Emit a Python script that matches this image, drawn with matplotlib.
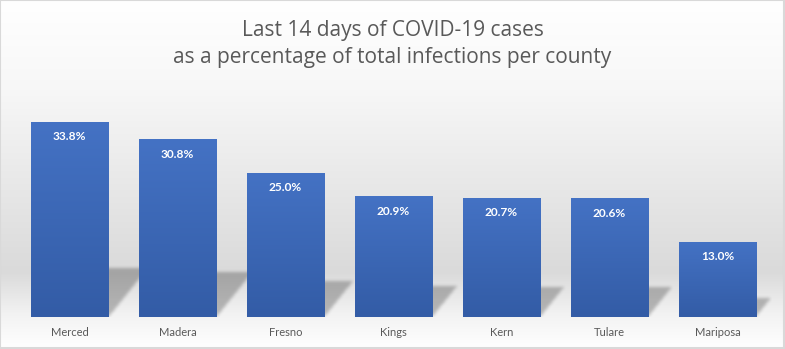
import numpy as np
import matplotlib
matplotlib.use("Agg")
import matplotlib.pyplot as plt
from matplotlib.colors import LinearSegmentedColormap
from matplotlib.path import Path as MPath
from matplotlib.patches import Rectangle

counties = ["Merced", "Madera", "Fresno", "Kings", "Kern", "Tulare", "Mariposa"]
pct = [33.8, 30.8, 25.0, 20.9, 20.7, 20.6, 13.0]
title = "Last 14 days of COVID-19 cases\nas a percentage of total infections per county"

W, H = 785, 349
fig = plt.figure(figsize=(W / 100, H / 100), dpi=100)
plt.rcParams["font.family"] = ["Lato", "DejaVu Sans"]

# chart area background: white -> light gray -> white
bg = fig.add_axes([0, 0, 1, 1], zorder=0)
yy = np.linspace(0, 1, H)
stops_y = [0.0, 0.25, 0.78, 0.90, 1.0]
stops_v = [1.0, 0.97, 0.855, 0.95, 1.0]
col = np.interp(yy, stops_y, stops_v)
grad = np.repeat(col[:, None], 10, axis=1)
bg.imshow(np.dstack([grad] * 3), aspect="auto", extent=(0, 1, 1, 0))
bg.set_xlim(0, 1)
bg.set_ylim(1, 0)
bg.axis("off")
bg.add_patch(Rectangle((0.0005, 0.001), 0.998, 0.996, fill=False,
                       edgecolor="#d9d9d9", linewidth=1.5))

# plot area
x_left, x_right = 15.5, 771.5
y_base, y_top = 317, 100
ax = fig.add_axes([x_left / W, (H - y_base) / H, (x_right - x_left) / W,
                   (y_base - y_top) / H], zorder=1)
ax.patch.set_alpha(0)
ymax = (y_base - y_top) / 5.77
ax.set_xlim(-0.5, len(counties) - 0.5)
ax.set_ylim(0, ymax)
ax.axis("off")

bw = 0.713
x = np.arange(len(counties))

# soft cast shadow behind each bar
nx, ny = int(x_right - x_left), int(y_base - y_top)
gx = np.linspace(-0.5, len(counties) - 0.5, nx)
gy = np.linspace(0, ymax, ny)
GX, GY = np.meshgrid(gx, gy)
pts = np.column_stack([GX.ravel(), GY.ravel()])
mask = np.zeros(GX.size)
for xi, v in zip(x, pct):
    dx = 0.0107 * v
    dy = 0.25 * v
    poly = MPath([(xi - bw / 2, 0), (xi + bw / 2, 0), (xi + bw / 2 + dx, dy),
                  (xi - bw / 2 + dx, dy), (xi - bw / 2, 0)])
    mask = np.maximum(mask, poly.contains_points(pts).astype(float))
mask = mask.reshape(GX.shape)
k = np.exp(-0.5 * (np.arange(-5, 6) / 1.6) ** 2)
k /= k.sum()
mask = np.apply_along_axis(lambda r: np.convolve(r, k, mode="same"), 1, mask)
mask = np.apply_along_axis(lambda c: np.convolve(c, k, mode="same"), 0, mask)
shadow = np.zeros(GX.shape + (4,))
shadow[..., 3] = mask * 0.25
ax.imshow(shadow, origin="lower", aspect="auto",
          extent=(-0.5, len(counties) - 0.5, 0, ymax), zorder=1)

# bars with a vertical blue gradient
blue = LinearSegmentedColormap.from_list("blue", ["#335ca6", "#4472c4"])
bars = ax.bar(x, pct, width=bw, color="none", edgecolor="none", zorder=2)
for b in bars:
    x0, w, h = b.get_x(), b.get_width(), b.get_height()
    g = np.linspace(0, 1, 100)[:, None]
    im = ax.imshow(g, cmap=blue, origin="lower", aspect="auto",
                   extent=(x0, x0 + w, 0, h), zorder=3)
    im.set_clip_path(b)

ax.set_xlim(-0.5, len(counties) - 0.5)
ax.set_ylim(0, ymax)

for xi, v in zip(x, pct):
    ax.annotate(f"{v:.1f}%", (xi, v), xytext=(0, -15), textcoords="offset pixels",
                ha="center", va="center", color="white", fontsize=8.6,
                fontweight="bold", zorder=4)
    ax.annotate(counties[xi], (xi, 0), xytext=(0, -15), textcoords="offset pixels",
                ha="center", va="center", color="#595959", fontsize=8,
                annotation_clip=False, zorder=4)

fig.text(0.5, 1 - 44 / H, title, ha="center", va="center", color="#595959",
         fontsize=15, family=["Open Sans", "DejaVu Sans"], linespacing=1.4,
         zorder=5)

fig.savefig("out.png", dpi=100)
